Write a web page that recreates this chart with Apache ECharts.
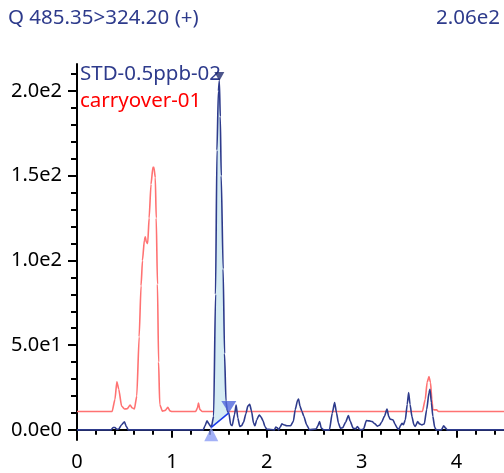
<!DOCTYPE html>
<html>
<head>
<meta charset="utf-8">
<script src="https://cdn.jsdelivr.net/npm/echarts@6/dist/echarts.min.js"></script>
<style>
  html, body { margin: 0; padding: 0; background: #fff; }
  #chart { width: 504px; height: 473px; }
</style>
</head>
<body>
<div id="chart"></div>
<script>
// trace data: [retention time (min), intensity]
const stdTrace = [
  [0, 0], [0.36, 0], [0.38, 1.4], [0.40, 1.4], [0.42, 0.3], [0.44, 0.5], [0.47, 3], [0.50, 4.7],
  [0.52, 2], [0.54, 0], [1.33, 0], [1.35, 2.5], [1.37, 5.3], [1.39, 3.5], [1.415, 1.5],
  [1.44, 8], [1.46, 80], [1.475, 165], [1.49, 200], [1.50, 206], [1.51, 185], [1.52, 150],
  [1.54, 95], [1.555, 45], [1.57, 17], [1.585, 11], [1.60, 10], [1.62, 3], [1.635, 2.5],
  [1.66, 9], [1.677, 14.7], [1.695, 7], [1.715, 2], [1.735, 2.5], [1.755, 4.5], [1.78, 9.5],
  [1.80, 14], [1.82, 15.1], [1.84, 11], [1.86, 4], [1.875, 2.4], [1.895, 6], [1.92, 8.8],
  [1.94, 7.5], [1.96, 5.5], [1.98, 2], [2.0, 0.4], [2.08, 0], [2.095, 1.6], [2.11, 1.2],
  [2.125, 0], [2.14, 1.5], [2.16, 3.5], [2.18, 3], [2.21, 2.4], [2.25, 2.4], [2.28, 5],
  [2.30, 12], [2.325, 17.5], [2.335, 18.2], [2.35, 14], [2.37, 11], [2.39, 8], [2.42, 3],
  [2.45, 0], [2.52, 0.5], [2.54, 2.5], [2.556, 4.9], [2.575, 1], [2.60, 0], [2.66, 0],
  [2.69, 9.8], [2.715, 16.1], [2.735, 10], [2.755, 4], [2.775, 1], [2.80, 1.2], [2.83, 4.5],
  [2.86, 8.4], [2.88, 5], [2.91, 1], [2.935, 0.5], [2.955, 2], [2.975, 0.5], [2.99, 0],
  [3.02, 0.5], [3.05, 5.5], [3.08, 5.3], [3.11, 4.9], [3.14, 3.5], [3.165, 2.2], [3.19, 2.8],
  [3.21, 4.5], [3.24, 8], [3.267, 12.2], [3.285, 8], [3.30, 6.3], [3.33, 6], [3.35, 3.5],
  [3.375, 1], [3.39, 0.2], [3.41, 2.5], [3.425, 3.9], [3.44, 3], [3.46, 6], [3.48, 15],
  [3.495, 22], [3.51, 15], [3.53, 7.8], [3.55, 3], [3.565, 2], [3.59, 4.9], [3.61, 3.5],
  [3.635, 2.9], [3.66, 3.5], [3.685, 12], [3.71, 22], [3.72, 24], [3.735, 16], [3.75, 8],
  [3.77, 1.5], [3.785, 0], [3.84, 0], [3.865, 2.4], [3.885, 1], [3.90, 0], [4.5, 0]
];

// carryover trace is drawn with its own offset baseline
const carryTrace = [
  [0, 10.8], [0.37, 10.8], [0.40, 18], [0.42, 28.4], [0.44, 24], [0.47, 14], [0.50, 12.3],
  [0.53, 12.5], [0.56, 14.7], [0.58, 13], [0.605, 12.3], [0.63, 20], [0.655, 55], [0.675, 85],
  [0.69, 100], [0.71, 112], [0.72, 114], [0.73, 111], [0.745, 110], [0.76, 125], [0.78, 145],
  [0.80, 155], [0.81, 155], [0.825, 149], [0.835, 125], [0.848, 86], [0.86, 40], [0.872, 15],
  [0.90, 11], [0.93, 11.5], [0.957, 13.3], [0.98, 11.2], [1.0, 10.8], [1.25, 10.8],
  [1.27, 13], [1.28, 15.8], [1.295, 12], [1.32, 10.8], [3.64, 10.8], [3.67, 18], [3.69, 28],
  [3.71, 31.4], [3.725, 28], [3.74, 18], [3.75, 12], [3.77, 11.8], [3.79, 11.8], [3.81, 10.8],
  [4.5, 10.8]
];

// integrated peak: start, end, apex
const peakStart = [1.415, 1.5];
const peakEnd = [1.60, 10];
const peakApex = [1.50, 206];

const xLabelTicks = [0, 1, 2, 3, 4];
const xMinorTicks = [0.2, 0.4, 0.6, 0.8, 1.2, 1.4, 1.6, 1.8, 2.2, 2.4, 2.6, 2.8, 3.2, 3.4, 3.6, 3.8, 4.2, 4.4];
const yLabelTicks = [0, 50, 100, 150, 200];
const yMinorTicks = [10, 20, 30, 40, 60, 70, 80, 90, 110, 120, 130, 140, 160, 170, 180, 190, 210];

const seriesNames = ['STD-0.5ppb-02', 'carryover-01'];
const titleText = 'Q 485.35>324.20 (+)';
const maxText = '2.06e2';

const font = 'Noto Sans';
const navy = '#2e3b8c';

const peakArea = stdTrace.filter(p => p[0] >= peakStart[0] && p[0] <= peakEnd[0]);

const chart = echarts.init(document.getElementById('chart'));

const axisCommon = {
  type: 'value',
  axisLine: { show: true, lineStyle: { color: '#000', width: 2 } },
  splitLine: { show: false },
  axisPointer: { show: false }
};

chart.setOption({
  animation: false,
  textStyle: { fontFamily: font },
  grid: { left: 77, right: 0, top: 64, bottom: 33 },
  graphic: [
    { type: 'text', left: 8, top: 8, style: { text: titleText, fill: navy, font: '20.5px "Noto Sans"' } },
    { type: 'text', right: 4, top: 8, style: { text: maxText, fill: navy, font: '20.5px "Noto Sans"' } }
  ],
  legend: {
    orient: 'vertical',
    left: 70,
    top: 57,
    icon: 'none',
    itemWidth: 0,
    itemHeight: 0,
    itemGap: 3,
    selectedMode: false,
    textStyle: { fontSize: 20.5, lineHeight: 24, fontFamily: font },
    data: [
      { name: seriesNames[0], textStyle: { color: navy } },
      { name: seriesNames[1], textStyle: { color: '#ff0000' } }
    ]
  },
  xAxis: [
    Object.assign({}, axisCommon, {
      min: 0, max: 4.5,
      axisTick: { show: true, length: 8, lineStyle: { color: '#000', width: 2 }, customValues: xLabelTicks },
      axisLabel: { color: '#000', fontSize: 20, margin: 12, customValues: xLabelTicks }
    }),
    Object.assign({}, axisCommon, {
      min: 0, max: 4.5, position: 'bottom',
      axisLine: { show: false },
      axisTick: { show: true, length: 5, lineStyle: { color: '#000', width: 2 }, customValues: xMinorTicks },
      axisLabel: { show: false }
    })
  ],
  yAxis: [
    Object.assign({}, axisCommon, {
      min: -6, max: 216,
      axisTick: { show: true, length: 9, lineStyle: { color: '#000', width: 2 }, customValues: yLabelTicks },
      axisLabel: {
        color: '#000', fontSize: 20, margin: 15, customValues: yLabelTicks,
        formatter: v => v.toExponential(1).replace('+', '')
      }
    }),
    Object.assign({}, axisCommon, {
      min: -6, max: 216, position: 'left',
      axisLine: { show: false },
      axisTick: { show: true, length: 6, lineStyle: { color: '#000', width: 2 }, customValues: yMinorTicks },
      axisLabel: { show: false }
    })
  ],
  series: [
    {
      name: seriesNames[1],
      type: 'line',
      data: carryTrace,
      showSymbol: false,
      smooth: 0.2,
      smoothMonotone: 'x',
      lineStyle: { color: '#ff7272', width: 1.6 },
      itemStyle: { color: '#ff0000' },
      z: 2
    },
    {
      name: 'peak area',
      type: 'custom',
      data: peakArea,
      z: 3,
      renderItem: function (params, api) {
        if (params.dataIndex !== 0) return null;
        return {
          type: 'polygon',
          shape: { points: peakArea.map(p => api.coord(p)) },
          style: { fill: '#d6ecf4', stroke: null }
        };
      }
    },
    {
      name: seriesNames[0],
      type: 'line',
      data: stdTrace,
      showSymbol: false,
      smooth: 0.2,
      smoothMonotone: 'x',
      lineStyle: { color: navy, width: 1.6 },
      itemStyle: { color: navy },
      z: 4
    },
    {
      name: 'baseline',
      type: 'line',
      data: [peakStart, peakEnd],
      showSymbol: false,
      lineStyle: { color: '#1a3be8', width: 1.5 },
      z: 5
    },
    {
      name: 'markers',
      type: 'scatter',
      z: 6,
      data: [
        { value: peakStart, symbol: 'triangle', symbolSize: [14, 14], symbolOffset: [0, '50%'], itemStyle: { color: '#8c9ef5' } },
        { value: peakEnd, symbol: 'path://M0,0 L10,0 L5,8 Z', symbolSize: [15, 12], symbolOffset: [0, '-50%'], itemStyle: { color: '#5066dc' } },
        { value: peakApex, symbol: 'path://M0,0 L10,0 L5,9 Z', symbolSize: [10, 9], symbolOffset: [0, '-50%'], itemStyle: { color: '#1f2a6e' } }
      ]
    }
  ]
});
</script>
</body>
</html>
